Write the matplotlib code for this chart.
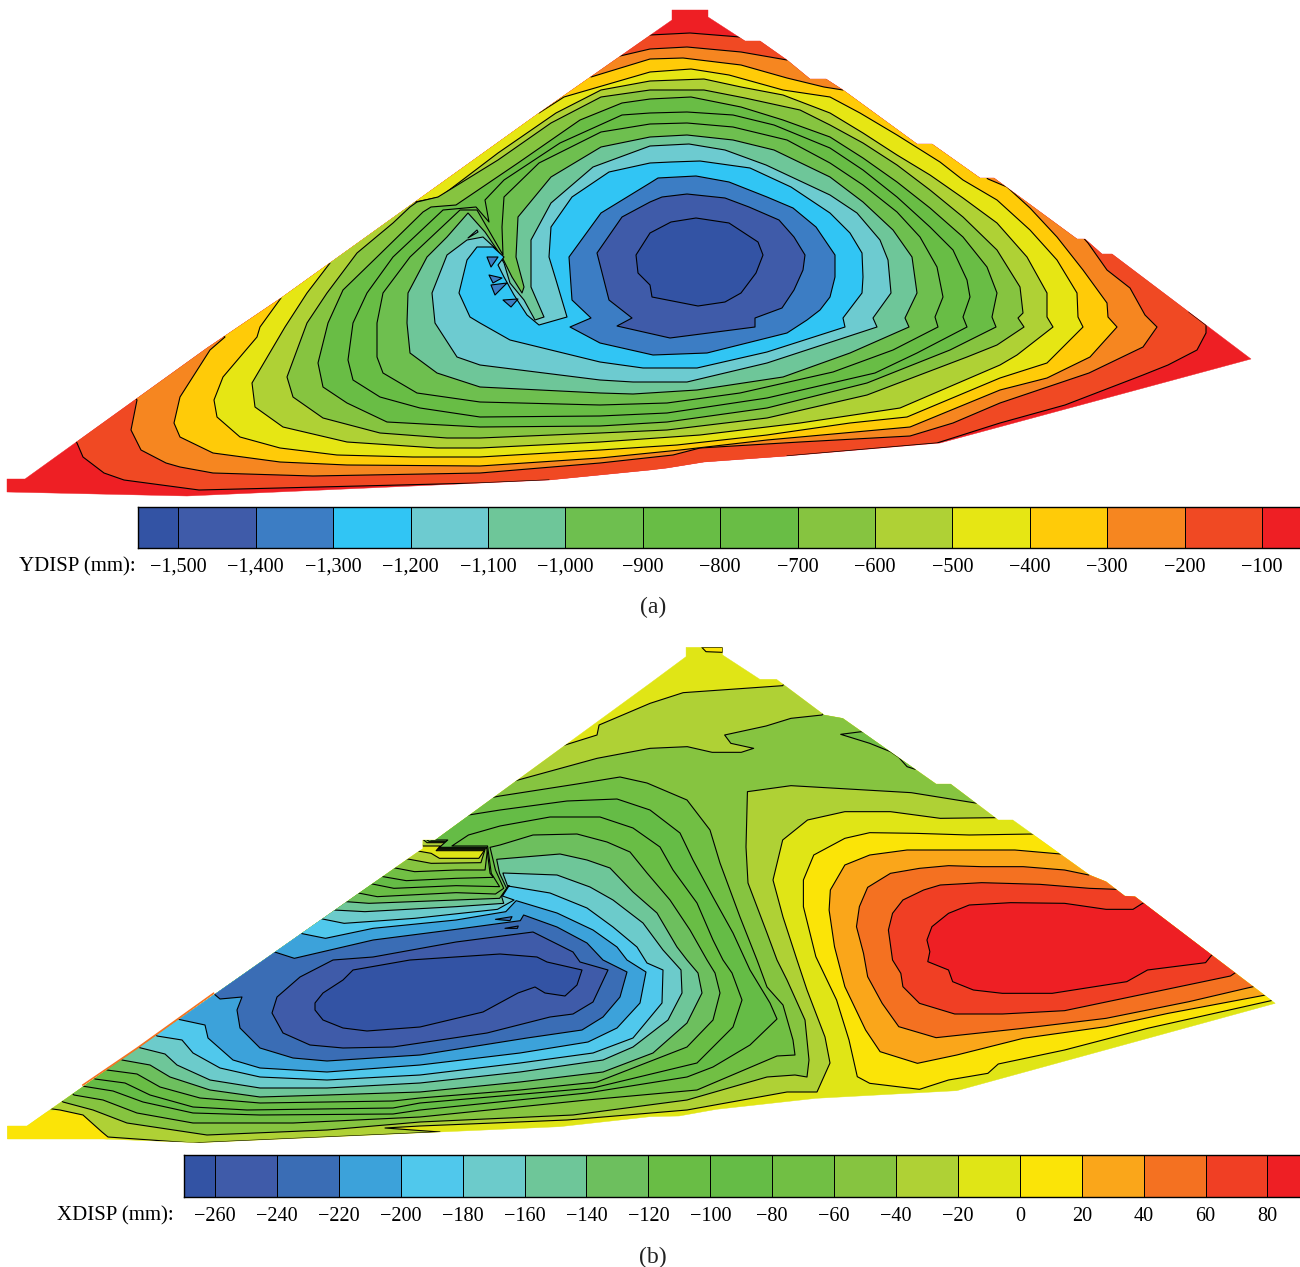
#!/usr/bin/env python3

import numpy as np
import matplotlib
matplotlib.use('Agg')
import matplotlib.pyplot as plt
from matplotlib.colors import ListedColormap
from matplotlib.patches import Polygon

plt.rcParams['font.family'] = ['Liberation Serif', 'DejaVu Serif']

# figure is 1300x1267, contours of panel (a) are read in picture pixels
a_outline = [(7,492),(187,496),(549,480),(650,470),(667,468),(704,462),(787,456),(940,443),(1251,359),
             (1112,254),(1102,254),(1085,239),(1077,239),(994,178),(980,178),(932,144),(917,144),(843,90),
             (826,79),(810,79),(787,60),(760,41),(745,41),(708,17),(708,10),(672,10),(672,20),(539,113),
             (281,298),(207,348),(25,479),(7,479)]

a_100 = [(650,35),(690,33),(740,37),(800,30),(1200,290),(1189,312),(1206,325),(1206,333),(1197,350),(1168,365),
         (1143,375),(1065,405),(1000,423),(937,443),(787,456),(787,475),(549,495),(549,480),(480,483),(199,490),(124,480),
         (104,473),(83,457),(77,443),(50,400),(500,60),(650,20)]
a_200 = [(620,56),(650,49),(687,47),(741,52),(787,60),(800,40),(1050,200),(1088,243),(1107,270),(1130,288),(1145,315),
         (1157,327),(1143,347),(1089,373),(1000,403),(953,423),(910,436),(800,442),(700,448),(673,455),(600,463),(480,473),
         (313,476),(213,473),(180,467),(166,463),(141,450),(131,430),(137,400),(120,380),(590,30)]
a_300 = [(591,77),(650,59),(683,58),(741,65),(787,78),(824,87),(843,90),(860,70),(960,150),(988,179),(1007,187),(1030,208),
         (1057,237),(1083,270),(1107,303),(1108,317),(1117,327),(1090,357),(1047,378),(1000,390),(910,427),(767,440),(680,450),
         (600,458),(480,466),(347,465),(280,462),(213,453),(180,437),(174,423),(180,397),(210,350),(225,337),(200,320),(570,50)]
a_400 = [(539,113),(564,97),(650,72),(691,69),(729,75),(783,90),(830,97),(860,113),(897,135),(940,162),(963,180),(997,200),
         (1030,230),(1057,260),(1077,293),(1078,317),(1083,327),(1047,363),(1000,378),(907,417),(850,423),(767,435),(677,445),
         (600,450),(480,457),(413,457),(337,455),(280,448),(240,437),(217,417),(214,400),(223,377),(257,337),(260,327),(281,298),
         (260,280),(520,95)]
a_500 = [(415,202),(440,197),(498,153),(556,113),(601,90),(650,81),(704,79),(741,87),(783,95),(830,113),(863,133),(897,155),
         (930,175),(963,198),(997,223),(1027,257),(1047,293),(1047,317),(1053,327),(1017,355),(1000,365),(900,408),(800,423),
         (700,435),(600,442),(480,448),(437,448),(347,442),(283,427),(255,407),(252,383),(285,327),(307,293),(330,263),(310,250),
         (400,190)]
a_600 = [(650,90),(704,90),(745,98),(800,110),(830,125),(863,143),(897,165),(930,190),(963,217),(997,250),(1020,287),(1023,313),
         (1018,318),(1024,327),(997,345),(967,357),(867,395),(767,418),(667,430),(600,433),(480,438),(447,438),(380,433),(323,418),
         (293,397),(287,377),(307,323),(327,293),(357,253),(393,223),(410,207),(417,202),(438,197),(498,160),(551,123),(601,97)]
a_700 = [(650,99),(691,97),(741,107),(783,120),(830,137),(863,158),(897,182),(930,208),(963,237),(987,267),(997,293),(992,317),
         (996,327),(950,350),(867,383),(767,408),(667,422),(600,426),(480,427),(387,422),(347,403),(323,387),(318,363),(328,323),
         (343,290),(377,257),(423,212),(431,207),(456,205),(518,163),(580,120),(622,103)]
a_800 = [(650,113),(687,112),(733,115),(774,125),(830,148),(863,170),(897,197),(930,227),(953,250),(967,280),(970,297),(963,317),
         (967,327),(917,353),(875,373),(767,398),(667,413),(600,416),(480,417),(420,408),(380,397),(353,380),(348,360),(353,323),
         (367,293),(393,257),(443,210),(476,207),(489,222),(485,200),(504,180),(560,143),(622,115)]
a_900 = [(650,124),(687,123),(733,127),(787,140),(830,163),(863,185),(897,212),(920,237),(937,267),(943,297),(935,317),(938,327),
         (893,350),(833,372),(740,393),(667,403),(600,405),(480,402),(417,393),(383,373),(377,357),(377,323),(383,293),(410,257),
         (460,210),(477,210),(503,255),(502,227),(504,197),(539,163),(601,132)]
a_1000 = [(650,137),(687,135),(733,140),(774,150),(830,177),(863,202),(893,230),(912,257),(917,293),(905,318),(909,327),(850,353),
          (783,377),(697,390),(633,394),(600,393),(480,387),(437,373),(410,353),(407,323),(408,293),(427,257),(447,237),(468,213),
          (485,232),(502,257),(512,277),(522,293),(524,287),(516,257),(518,217),(551,177),(601,147)]
a_1100 = [(650,146),(689,144),(725,150),(766,165),(830,195),(857,213),(880,240),(888,260),(891,293),(873,318),(877,327),(767,363),
          (687,382),(633,382),(600,380),(480,365),(457,357),(435,323),(432,293),(447,255),(467,240),(483,237),(495,248),(504,263),
          (510,283),(524,300),(535,320),(544,317),(531,287),(531,240),(551,203),(593,167)]
a_1200 = [(650,163),(671,162),(700,161),(750,168),(791,187),(830,213),(850,233),(862,253),(863,277),(862,293),(843,318),(845,327),
          (767,352),(697,368),(643,368),(600,362),(510,340),(480,323),(470,317),(459,293),(467,260),(477,247),(493,247),(504,257),
          (498,265),(504,277),(514,295),(527,315),(539,325),(567,317),(556,280),(549,257),(551,227),(572,197),(609,172)]
a_1300 = [(650,183),(658,178),(696,176),(729,182),(767,197),(793,208),(816,227),(835,255),(835,277),(830,297),(820,310),
          (807,320),(787,333),(707,353),(653,355),(600,343),(570,327),(591,318),(572,300),(569,257),(601,213)]
a_1400 = [(650,202),(662,197),(687,194),(725,198),(749,207),(779,220),(794,237),(805,255),(803,270),(794,290),(782,308),
          (755,318),(755,327),(670,338),(617,326),(632,318),(609,300),(597,253),(622,217)]
a_1500 = [(650,233),(671,222),(696,218),(729,223),(758,242),(763,255),(756,273),(741,293),(725,302),(698,306),(652,297),
          (650,285),(638,273),(636,255)]
a_teeth = [[(487,257),(498,257),(491,267)], [(489,275),(502,278),(493,283)],
           [(491,285),(507,283),(495,295)], [(503,300),(518,299),(511,307)]]
a_sliver = [(468,238),(477,230),(478,232)]

a_levels = [a_100, a_200, a_300, a_400, a_500, a_600, a_700, a_800, a_900, a_1000, a_1100, a_1200, a_1300, a_1400, a_1500]
a_colors = ['#EE1F24', '#F04923', '#F68620', '#FFCB08', '#E6E614', '#AFD135', '#86C440', '#69BD45', '#68BD45', '#6EBF4F',
            '#6EC699', '#6DCBD0', '#31C5F4', '#3C7DC4', '#3F5BA9', '#3353A4']
a_edges = [-1552, -1500, -1400, -1300, -1200, -1100, -1000, -900, -800, -700, -600, -500, -400, -300, -200, -100, -51]
a_ticks = [-1500, -1400, -1300, -1200, -1100, -1000, -900, -800, -700, -600, -500, -400, -300, -200, -100]
a_ticklabels = ['−1,500', '−1,400', '−1,300', '−1,200', '−1,100', '−1,000', '−900', '−800', '−700', '−600', '−500',
                '−400', '−300', '−200', '−100']

def cl(pts):
    return [(p[0] / 2.412, 640 + p[1] / 3) for p in pts]

def cr(pts):
    return [(650 + p[0] / 2.412, 640 + p[1] / 3) for p in pts]

b_outline = cl([(18,1458),(65,1458),(1003,640),(1020,626),(1020,600),(1050,600),(1568,130)]) + \
    cr([(87,50),(87,22),(175,22),(175,45),(265,118),(305,118),(420,225),(465,235),(690,432),(725,432),(840,540),(875,540),
        (1060,705),(1100,725),(1145,768),(1170,770),(1508,1090),(740,1352),(400,1375),(160,1408),(70,1428)]) + \
    cl([(1568,1430),(1350,1460),(480,1508),(250,1497),(18,1497)])

b_corner = [(7,1126),(27,1126),(45,1112),(60,1110),(83,1115),(102,1132),(108,1137),(108,1142),(7,1142)]
b_top_patch = cr([(125,22),(135,35),(175,37),(175,22)])

b_m20 = [(567,1120),(420,1126),(385,1128),(440,1132),(193,1143),(108,1137),(102,1132),(83,1115),(60,1110),(45,1108),(20,1085)] + \
    cl([(963,592),(1003,632),(1040,640),(1060,655),(1155,655),(1168,632),(1052,632),(1062,618),(1020,618),(1000,580),(1340,300),
        (1350,320),(1440,285),(1445,255),(1568,190)]) + \
    cr([(80,158),(320,137),(340,100),(900,520),(835,533),(700,535),(580,515),(470,515),(380,540),(320,600)]) + \
    [(773,880),(783,917),(797,960),(807,990),(825,1037),(830,1063),(817,1092),(787,1092),(687,1110)]
b_m40 = [(573,1115),(420,1122),(327,1130),(207,1135),(127,1123),(93,1110),(63,1102),(40,1080)] + \
    cl([(935,615),(975,655),(1040,670),(1160,668),(1170,628),(1056,628),(1078,608),(1030,608),(1000,578),(1225,405),(1235,425),
        (1440,355),(1568,325)]) + \
    cr([(90,320),(150,337),(220,337),(250,325),(195,310),(180,285),(280,258),(340,235),(415,225),(430,190),(830,470),(790,490),
        (630,458),(340,437),(235,455)]) + \
    [(746,847),(748,883),(767,933),(777,960),(787,980),(805,1020),(809,1060),(807,1077),(795,1075),(767,1077),(687,1100)]
b_island = cr([(510,275),(460,283),(530,310),(580,335),(600,352),(620,380),(640,388),(700,300)])
b_m60 = [(587,1100),(420,1117),(293,1123),(193,1123),(137,1113),(103,1100),(74,1095),(50,1072)] + \
    cl([(905,642),(945,682),(1000,695),(1100,690),(1170,690),(1176,625),(1058,625),(1080,604),(1035,604),(1000,575),(1165,445),
        (1175,475)]) + \
    [(500,796),(577,784),(620,777),(647,783),(687,800),(710,830),(720,863),(740,917),(757,960),(767,987),(783,1005),(793,1040),
     (795,1055),(777,1056),(697,1090)]
b_m80 = [(587,1093),(420,1110),(393,1114),(260,1115),(193,1113),(143,1102),(113,1091),(82,1086),(60,1065)] + \
    cl([(875,668),(915,708),(980,722),(1100,715),(1190,712),(1182,700),(1174,622),(1060,622),(1080,600),(1040,600),(1010,570),
        (1105,490),(1115,528)]) + \
    [(500,810),(567,801),(617,799),(650,810),(680,833),(693,860),(713,897),(733,933),(750,970),(770,1003),(777,1019),(750,1045),
     (713,1067),(687,1077)]
b_m100 = [(593,1088),(420,1103),(393,1108),(247,1110),(193,1107),(150,1095),(125,1083),(95,1079),(72,1058)] + \
    cl([(850,690),(890,730),(950,745),(1100,737),(1205,740),(1185,700),(1176,618),(1090,618),(1130,585)]) + \
    [(500,826),(550,817),(600,817),(633,828),(660,847),(673,870),(697,903),(713,940),(723,960),(732,973),(742,1000),(733,1027),
     (697,1063)]
b_m120 = [(597,1082),(520,1090),(420,1098),(393,1101),(260,1103),(200,1098),(160,1087),(137,1074),(107,1070),(85,1048)] + \
    cl([(820,718),(860,758),(910,770),(1100,758),(1195,762),(1215,745),(1195,690),(1182,622)]) + \
    [(500,845),(533,835),(577,834),(607,842),(630,852),(647,873),(670,900),(690,930),(707,960),(715,973),(720,993),(713,1020),
     (687,1047)]
b_m140 = [(603,1072),(520,1082),(420,1092),(327,1095),(260,1097),(210,1090),(170,1077),(150,1065),(122,1060),(100,1038)] + \
    cl([(795,745),(835,785),(890,790),(1100,780),(1205,775),(1222,745),(1205,700),(1198,658)]) + \
    [(500,859),(560,854),(587,860),(610,868),(633,892),(657,913),(677,947),(687,960),(698,973),(702,993),(687,1023),(653,1053)]
b_m160 = [(603,1060),(520,1072),(420,1083),(327,1088),(260,1088),(210,1080),(177,1065),(165,1054),(137,1047),(115,1025)] + \
    cl([(765,770),(805,810),(880,815),(1100,800),(1215,790),(1210,770),(1225,740),(1213,700)]) + \
    [(503,873),(557,875),(590,887),(613,900),(643,923),(663,950),(681,970),(682,993),(668,1020),(633,1047)]
b_m180 = [(593,1053),(520,1063),(420,1075),(327,1080),(260,1077),(220,1068),(193,1053),(182,1040),(157,1036),(135,1014)] + \
    cl([(730,795),(770,835),(830,850),(1000,835),(1200,808),(1240,780),(1212,768),(1228,737)]) + \
    [(508,886),(550,893),(587,908),(613,927),(637,947),(647,963),(663,970),(662,1003),(633,1038)]
b_m200 = [(588,1042),(520,1053),(420,1065),(327,1072),(260,1068),(233,1060),(208,1038),(205,1025),(177,1019),(155,997)] + \
    cl([(685,840),(725,880),(785,895),(900,865),(1100,840),(1220,815),(1245,782)]) + \
    [(557,913),(593,930),(617,947),(627,960),(646,972),(640,1003),(617,1028)]
b_m220 = [(582,1030),(527,1038),(420,1055),(327,1061),(293,1058),(260,1048),(240,1028),(237,1010),(242,997),(220,999),(213,993),
          (190,971)] + \
    cl([(620,895),(660,935),(710,955),(900,900),(1100,868),(1255,842),(1263,825)]) + \
    [(557,927),(587,943),(603,960),(627,972),(620,997),(603,1017)]
b_m240 = [(533,932),(573,952),(580,962),(608,970),(593,1002),(573,1014),(550,1017),(487,1033),(420,1043),(393,1047),(343,1048),
          (310,1045),(283,1033),(272,1013),(277,997),(300,977),(333,960),(373,957),(456,942)]
b_m260 = [(500,954),(537,957),(547,962),(582,970),(577,985),(565,996),(545,993),(535,987),(518,993),(483,1012),(420,1027),
          (367,1031),(343,1028),(323,1020),(315,1010),(315,1003),(323,993),(343,980),(353,970),(410,960)]
b_blobs = [cl([(1195,838),(1235,830),(1230,842)]), cl([(1218,865),(1250,858),(1248,865)])]

b_0 = cr([(925,582),(770,585),(640,580),(530,578),(470,595),(395,645),(370,720),(370,800),(400,950),(450,1080),(480,1200),
          (500,1310),(530,1330),(650,1348),(720,1320),(815,1300),(840,1272),(1000,1230),(1200,1165),(1498,1082),(1560,1060),(1000,500)])
b_20 = cr([(990,642),(880,630),(720,630),(620,630),(530,645),(470,675),(435,750),(432,810),(445,920),(470,1040),(520,1170),
           (555,1235),(645,1270),(740,1245),(900,1195),(1100,1160),(1250,1120),(1485,1065),(1560,1040),(1040,590)])
b_40 = cr([(1058,705),(1000,690),(900,680),(800,680),(720,677),(650,685),(580,700),(525,742),(505,800),(498,860),(515,940),
           (525,1010),(560,1090),(600,1160),(690,1193),(900,1165),(1100,1135),(1300,1085),(1455,1040),(1530,1000),(1100,660)])
b_60 = cr([(1125,748),(1060,745),(940,733),(800,728),(700,735),(660,750),(610,780),(585,820),(575,870),(585,960),(605,1000),
           (610,1040),(650,1090),(735,1122),(850,1122),(1000,1112),(1200,1060),(1400,1008),(1412,998),(1480,980),(1180,700)])
b_80 = cr([(1188,790),(1165,808),(1100,808),(1000,790),(870,788),(770,795),(720,820),(680,860),(668,900),(675,935),(670,965),
           (720,990),(730,1025),(780,1050),(850,1060),(970,1060),(1150,1025),(1200,990),(1340,968),(1355,945),(1420,930),(1230,760)])

b_low_levels = [b_m20, b_m40, b_m60, b_m80, b_m100, b_m120, b_m140, b_m160, b_m180, b_m200, b_m220, b_m240, b_m260]
b_high_levels = [b_0, b_20, b_40, b_60, b_80]
b_colors = ['#3353A4', '#3F5BA9', '#3A6DB5', '#3CA2DA', '#50C8EC', '#6CCBCB', '#6EC699', '#6DBF5E', '#69BD45', '#65BC46',
            '#71BF44', '#86C440', '#AFD135', '#E0E516', '#FBE407', '#FAA61A', '#F47121', '#F03F24', '#EE1F24']
b_edges = [-270, -260, -240, -220, -200, -180, -160, -140, -120, -100, -80, -60, -40, -20, 0, 20, 40, 60, 80, 90.5]
b_ticks = [-260, -240, -220, -200, -180, -160, -140, -120, -100, -80, -60, -40, -20, 0, 20, 40, 60, 80]
b_ticklabels = ['−260', '−240', '−220', '−200', '−180', '−160', '−140', '−120', '−100', '−80', '−60', '−40', '−20',
                '0', '20', '40', '60', '80']
b_edge_line = cl([(200,1335),(330,1225),(515,1060)])

W, H = 1300, 1267
LW = 0.8

fig = plt.figure(figsize=(W / 100, H / 100), dpi=100)
ax = fig.add_axes([0, 0, 1, 1])
ax.set_xlim(0, W)
ax.set_ylim(H, 0)
ax.axis('off')


def add_contour(pts, color, clip):
    p = Polygon(pts, closed=True, facecolor=color, edgecolor='k', linewidth=LW, joinstyle='round')
    ax.add_patch(p)
    p.set_clip_path(clip)


# panel a
clip_a = Polygon(a_outline, closed=True, facecolor=a_colors[0], edgecolor=a_colors[0], linewidth=0.3)
ax.add_patch(clip_a)
for i, lev in enumerate(a_levels):
    add_contour(lev, a_colors[i + 1], clip_a)
for t in a_teeth:
    add_contour(t, a_colors[13], clip_a)
add_contour(a_sliver, a_colors[11], clip_a)

# panel b, low lobe and high lobe are nested on a base of the -20..0 colour
clip_b = Polygon(b_outline, closed=True, facecolor=b_colors[13], edgecolor=b_colors[13], linewidth=0.3)
ax.add_patch(clip_b)
corner = Polygon(b_corner, closed=True, facecolor=b_colors[14], edgecolor='none')
ax.add_patch(corner)
corner.set_clip_path(clip_b)
add_contour(b_top_patch, b_colors[14], clip_b)
for i, lev in enumerate(b_low_levels):
    add_contour(lev, b_colors[12 - i], clip_b)
    if lev is b_m40:
        add_contour(b_island, b_colors[10], clip_b)
for blob in b_blobs:
    add_contour(blob, b_colors[2], clip_b)
for i, lev in enumerate(b_high_levels):
    add_contour(lev, b_colors[14 + i], clip_b)
ax.plot([p[0] for p in b_edge_line], [p[1] for p in b_edge_line], color='#F47121', lw=1.2)


def colorbar(x0, x1, y0, y1, edges, colors, ticks, ticklabels):
    cax = fig.add_axes([x0 / W, 1 - y1 / H, (x1 - x0) / W, (y1 - y0) / H])
    cax.pcolormesh(edges, [0, 1], [np.arange(len(colors))], cmap=ListedColormap(colors),
                   edgecolors='k', linewidth=0.7)
    cax.set_xlim(edges[0], edges[-1])
    cax.set_yticks([])
    cax.set_xticks(ticks)
    cax.set_xticklabels(ticklabels, fontsize=14.6)
    cax.tick_params(axis='x', length=0, pad=7)
    cax.spines['right'].set_visible(False)
    for s in ['top', 'bottom', 'left']:
        cax.spines[s].set_linewidth(1.0)


colorbar(138, 1300, 507, 548, a_edges, a_colors[::-1], a_ticks, a_ticklabels)
colorbar(184, 1300, 1155, 1197, b_edges, b_colors, b_ticks, b_ticklabels)

ax.text(136, 567, 'YDISP (mm):', ha='right', va='center', fontsize=15)
ax.text(174, 1216, 'XDISP (mm):', ha='right', va='center', fontsize=15)
ax.text(653, 607, '(a)', ha='center', va='center', fontsize=17, color='#222222')
ax.text(653, 1257, '(b)', ha='center', va='center', fontsize=17, color='#222222')

fig.savefig('out.png', dpi=100)
